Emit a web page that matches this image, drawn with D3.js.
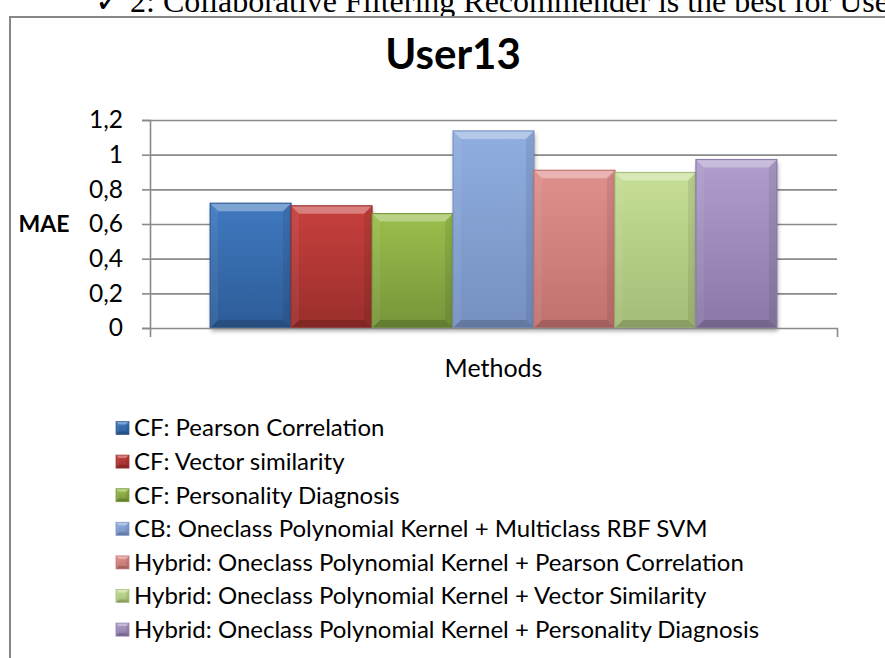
<!DOCTYPE html>
<html><head><meta charset="utf-8">
<script src="https://cdn.jsdelivr.net/npm/d3@7"></script>
<style>body{margin:0;background:#fff} svg{display:block}</style>
</head><body>
<svg id="c" width="885" height="658"></svg>
<script>
// ---- data ----
const headerText = "\u2713 2: Collaborative Filtering Recommender is the best for User";
const chartTitle = "User13";
const yAxisTitle = "MAE";
const categories = ["Methods"];
const seriesNames = [
  "CF: Pearson Correlation",
  "CF: Vector similarity",
  "CF: Personality Diagnosis",
  "CB: Oneclass Polynomial Kernel + Multiclass RBF SVM",
  "Hybrid: Oneclass Polynomial Kernel + Pearson Correlation",
  "Hybrid: Oneclass Polynomial Kernel + Vector Similarity",
  "Hybrid: Oneclass Polynomial Kernel + Personality Diagnosis"
];
const maeValues = [0.72, 0.705, 0.66, 1.137, 0.91, 0.897, 0.972];
const yTicks = [0, 0.2, 0.4, 0.6, 0.8, 1, 1.2];
const yTickLabels = ["0", "0,2", "0,4", "0,6", "0,8", "1", "1,2"];
const topColors = ["#4079c0", "#c7403d", "#9bbe4c", "#90aee0", "#e0908c", "#c6de96", "#b09ecc"];
const bottomColors = ["#2d5c97", "#9a2e2c", "#76953a", "#7590c1", "#c0716e", "#a3bc77", "#8a78a6"];

// ---- layout ----
const svg = d3.select("#c");
const defs = svg.append("defs");
const FONT = "Lato, Carlito, Calibri, sans-serif";
const plot = {left: 150, right: 837, top: 120, bottom: 328};

// header (cropped text from the page) and frame
svg.append("text").attr("x", 95).attr("y", 12)
  .attr("font-family", "'Liberation Serif', 'Times New Roman', serif")
  .attr("font-size", 32).attr("fill", "#000").text(headerText);
svg.append("rect").attr("x", 10).attr("y", 17).attr("width", 900).attr("height", 700)
  .attr("fill", "#fff").attr("stroke", "#878787").attr("stroke-width", 2);

// scales
const y = d3.scaleLinear().domain([0, 1.2]).range([plot.bottom, plot.top]);
const x0 = d3.scaleBand().domain(categories).range([plot.left, plot.right])
  .paddingInner(0.175).paddingOuter(0.0875);
const x1 = d3.scaleBand().domain(seriesNames).range([0, x0.bandwidth()]);

// title
svg.append("text").attr("x", 453).attr("y", 69).attr("text-anchor", "middle")
  .attr("font-family", FONT).attr("font-weight", "bold").attr("font-size", 42)
  .text(chartTitle);

// gridlines
const grid = svg.append("g").attr("transform", `translate(${plot.left},0)`)
  .call(d3.axisLeft(y).tickValues(yTicks.slice(1)).tickSize(-(plot.right - plot.left)).tickFormat(""));
grid.select(".domain").remove();
grid.selectAll("line").attr("stroke", "#8a8a8a").attr("stroke-width", 1.6);

// gradients + shadow
seriesNames.forEach((s, i) => {
  const g = defs.append("linearGradient").attr("id", "g" + i).attr("x1", 0).attr("y1", 0).attr("x2", 0).attr("y2", 1);
  g.append("stop").attr("offset", 0).attr("stop-color", topColors[i]);
  g.append("stop").attr("offset", 1).attr("stop-color", bottomColors[i]);
});
const f = defs.append("filter").attr("id", "sh").attr("x", -0.2).attr("y", -0.2).attr("width", 1.4).attr("height", 1.4);
f.append("feDropShadow").attr("dx", 1).attr("dy", 3).attr("stdDeviation", 2.2)
  .attr("flood-color", "#000").attr("flood-opacity", 0.35);

function bevelBox(g, bx, by, bw, bh, b, i, sw) {
  g.append("rect").attr("x", bx).attr("y", by).attr("width", bw).attr("height", bh)
    .attr("fill", `url(#g${i})`);
  const P = pts => pts.map(p => p.join(",")).join(" ");
  g.append("polygon").attr("points", P([[bx, by], [bx + bw, by], [bx + bw - b, by + b], [bx + b, by + b]]))
    .attr("fill", "#fff").attr("fill-opacity", 0.33);
  g.append("polygon").attr("points", P([[bx, by + bh], [bx + bw, by + bh], [bx + bw - b, by + bh - b], [bx + b, by + bh - b]]))
    .attr("fill", "#000").attr("fill-opacity", 0.16);
  g.append("polygon").attr("points", P([[bx, by], [bx + b, by + b], [bx + b, by + bh - b], [bx, by + bh]]))
    .attr("fill", "#fff").attr("fill-opacity", 0.06);
  g.append("polygon").attr("points", P([[bx + bw, by], [bx + bw - b, by + b], [bx + bw - b, by + bh - b], [bx + bw, by + bh]]))
    .attr("fill", "#000").attr("fill-opacity", 0.08);
  g.append("rect").attr("x", bx).attr("y", by).attr("width", bw).attr("height", bh)
    .attr("fill", "none").attr("stroke", bottomColors[i]).attr("stroke-opacity", 0.9).attr("stroke-width", sw);
}

// bars
const barsG = svg.append("g");
categories.forEach(cat => {
  seriesNames.forEach((s, i) => {
    const bx = x0(cat) + x1(s), bw = x1.bandwidth();
    const by = y(maeValues[i]), bh = y(0) - y(maeValues[i]);
    const g = barsG.append("g");
    g.append("rect").attr("x", bx).attr("y", by).attr("width", bw).attr("height", bh)
      .attr("fill", bottomColors[i]).attr("filter", "url(#sh)");
    bevelBox(g, bx, by, bw, bh, 8, i, 1.2);
  });
});

// y axis
const ya = svg.append("g").attr("transform", `translate(${plot.left},0)`)
  .call(d3.axisLeft(y).tickValues(yTicks).tickFormat((d, i) => yTickLabels[i]).tickSize(8).tickPadding(19));
ya.selectAll("line, path").attr("stroke", "#8a8a8a").attr("stroke-width", 1.6);
ya.selectAll("text").attr("font-family", FONT).attr("font-size", 24.5).attr("fill", "#000");

// x axis
const xa = svg.append("g").attr("transform", `translate(0,${plot.bottom})`)
  .call(d3.axisBottom(x0).tickSizeInner(0).tickSizeOuter(9).tickPadding(31));
xa.selectAll("line, path").attr("stroke", "#8a8a8a").attr("stroke-width", 1.6);
xa.selectAll("text").attr("font-family", FONT).attr("font-size", 25).attr("fill", "#000");

// y title
svg.append("text").attr("x", 44).attr("y", y(0.6)).attr("dy", "0.35em").attr("text-anchor", "middle")
  .attr("font-family", FONT).attr("font-weight", "bold").attr("font-size", 23).text(yAxisTitle);

// legend
const leg = svg.append("g");
seriesNames.forEach((s, i) => {
  const cy = 428 + i * 33.6;
  const g = leg.append("g");
  bevelBox(g, 116, cy - 6.5, 13, 13, 3, i, 0.8);
  g.append("text").attr("x", 134).attr("y", cy).attr("dy", "0.35em")
    .attr("font-family", FONT).attr("font-size", 24).attr("fill", "#000").text(s);
});
</script>
</body></html>
